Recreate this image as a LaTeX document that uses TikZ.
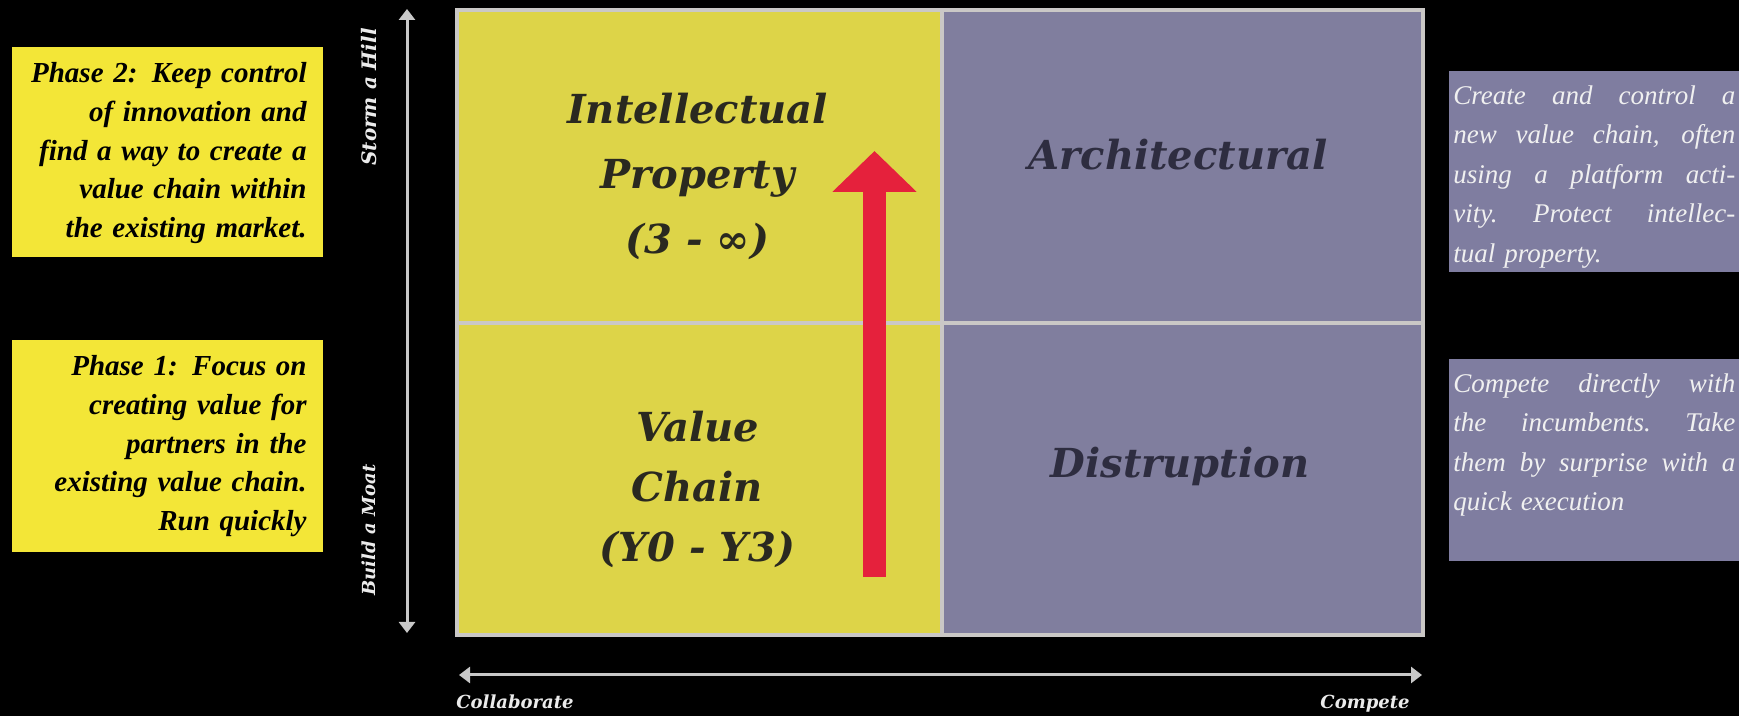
\documentclass[tikz,border=0pt]{standalone}
\usepackage{fontspec}
\usepackage{xcolor}
\usetikzlibrary{arrows.meta}
\newfontfamily\headfont{DejaVu Serif}
\newfontfamily\notefont{Liberation Serif}
\definecolor{quadyellow}{HTML}{DDD448}
\definecolor{quadpurple}{HTML}{807E9E}
\definecolor{noteyellow}{HTML}{F3E637}
\definecolor{notepurple}{HTML}{7F7DA0}
\definecolor{gridgray}{HTML}{CAC8C6}
\definecolor{axisgray}{HTML}{C8C8C8}
\definecolor{arrowred}{HTML}{E5213C}
\definecolor{darkink}{HTML}{2A2920}
\definecolor{purpleink}{HTML}{2E2D40}
\def\notew{141pt}
\newcommand{\jline}[1]{{\spaceskip=0.25em plus 1em\relax\xspaceskip=\spaceskip
  \makebox[\notew][s]{#1}}}

\begin{document}
\begin{tikzpicture}[x=0.5pt, y=0.5pt,
    quad/.style={draw=gridgray, line width=2pt, minimum width=#1, inner sep=0, anchor=north west},
    head/.style={font=\headfont\bfseries\itshape\fontsize{20}{30}\selectfont, align=center, inner sep=0},
    notebox/.style={minimum width=155.5pt, inner sep=0},
    phasetext/.style={font=\notefont\bfseries\itshape\fontsize{14.5}{19.4}\selectfont, text=black,
      align=right, text width=145pt, inner sep=0, anchor=north east},
    sidetext/.style={font=\notefont\itshape\fontsize{13.5}{19.75}\selectfont, text=white!94!black,
      align=left, text width=\notew, inner sep=0, anchor=north west},
    axis/.style={axisgray, line width=1.5pt, {Triangle[length=5.5pt,width=8pt]}-{Triangle[length=5.5pt,width=8pt]}},
    axislabel/.style={font=\headfont\bfseries\itshape\fontsize{10}{12}\selectfont, text=white!92!black, inner sep=0},
    bigarrow/.style={arrowred, line width=11.5pt, -{Triangle[length=20.5pt,width=41pt]}}]

    \clip (0,0) rectangle (1739,716);
    \fill[black] (0,0) rectangle (1739,716);

    % the four cells
    \node[quad=242.5pt, fill=quadyellow, minimum height=156.5pt] (ipcell) at (455,708) {};
    \node[quad=240.5pt, fill=quadpurple, minimum height=156.5pt] (archcell) at (940,708) {};
    \node[quad=242.5pt, fill=quadyellow, minimum height=156pt] (vccell) at (455,395) {};
    \node[quad=240.5pt, fill=quadpurple, minimum height=156pt] (discell) at (940,395) {};

    \node[head, text=darkink, anchor=north, font=\headfont\bfseries\itshape\fontsize{20}{32.5}\selectfont]
      (iplabel) at (697.5,623) {Intellectual\\Property\\(3 - ∞)};
    \node[head, text=darkink, anchor=north] (vclabel) at (697.5,305) {Value\\Chain\\(Y0 - Y3)};
    \node[head, text=purpleink, anchor=base] (archlabel) at (1178,546) {Architectural};
    \node[head, text=purpleink, anchor=base] (dislabel) at (1180,238) {Distruption};

    \coordinate (redfoot) at (874.5,139);
    \coordinate (redtip) at (874.5,565);
    \draw[bigarrow] (redfoot) -- (redtip);

    % axes
    \coordinate (ybot) at (407,83);
    \coordinate (ytop) at (407,707);
    \draw[axis] (ybot) -- (ytop);
    \coordinate (xleft) at (459,41);
    \coordinate (xright) at (1422,41);
    \draw[axis] (xleft) -- (xright);

    \node[axislabel, rotate=90] (storm) at (369,619) {Storm a Hill};
    \node[axislabel, rotate=90, font=\headfont\bfseries\itshape\fontsize{9}{11}\selectfont] (moat) at (369,186) {Build a Moat};
    \node[axislabel, anchor=base west, font=\headfont\bfseries\itshape\fontsize{9}{11}\selectfont] (collab) at (456,7) {Collaborate};
    \node[axislabel, anchor=base east, font=\headfont\bfseries\itshape\fontsize{9}{11}\selectfont] (compete) at (1410,7) {Compete};

    % phase notes
    \node[notebox, fill=noteyellow, minimum height=105pt] (phase2box) at (167.5,564) {};
    \node[phasetext] (phase2) at (307,654) {Phase 2: Keep control\\ of innovation and\\ find a way to create a\\ value chain within\\ the existing market.};
    \node[notebox, fill=noteyellow, minimum height=106pt] (phase1box) at (167.5,270) {};
    \node[phasetext] (phase1) at (307,361) {Phase 1: Focus on\\ creating value for\\ partners in the\\ existing value chain.\\ Run quickly};

    % side notes
    \node[notebox, fill=notepurple, minimum width=170pt, minimum height=100.5pt] (archbox) at (1619,544.5) {};
    \node[sidetext] (archnote) at (1453,631) {\jline{Create and control a}\\ \jline{new value chain, often}\\
      \jline{using a platform acti-}\\ \jline{vity. Protect intellec-}\\ tual property.};
    \node[notebox, fill=notepurple, minimum width=170pt, minimum height=101pt] (disbox) at (1619,256) {};
    \node[sidetext] (disnote) at (1453,343) {\jline{Compete directly with}\\ \jline{the incumbents. Take}\\
      \jline{them by surprise with a}\\ quick execution};
\end{tikzpicture}
\end{document}
